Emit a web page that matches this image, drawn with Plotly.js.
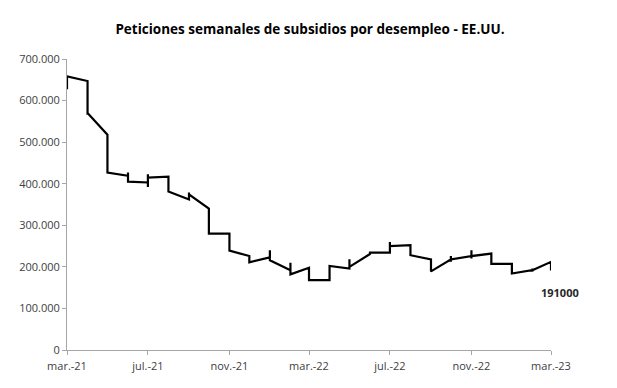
<!DOCTYPE html>
<html>
<head>
<meta charset="utf-8">
<script src="https://cdn.plot.ly/plotly-3.0.1.min.js"></script>
<style>
  html, body { margin: 0; padding: 0; background: #fff; }
  #chart { width: 617px; height: 388px; }
</style>
</head>
<body>
<div id="chart"></div>
<script>
// Week-ending dates of the weekly claims series
const weekEnding = [
  '2021-03-13','2021-03-20','2021-03-27',
  '2021-04-03','2021-04-10','2021-04-17','2021-04-24',
  '2021-05-01','2021-05-08','2021-05-15','2021-05-22','2021-05-29',
  '2021-06-05','2021-06-12','2021-06-19','2021-06-26',
  '2021-07-03','2021-07-10','2021-07-17','2021-07-24','2021-07-31',
  '2021-08-07','2021-08-14','2021-08-21','2021-08-28',
  '2021-09-04','2021-09-11','2021-09-18','2021-09-25',
  '2021-10-02','2021-10-09','2021-10-16','2021-10-23','2021-10-30',
  '2021-11-06','2021-11-13','2021-11-20','2021-11-27',
  '2021-12-04','2021-12-11','2021-12-18','2021-12-25',
  '2022-01-01','2022-01-08','2022-01-15','2022-01-22','2022-01-29',
  '2022-02-05','2022-02-12','2022-02-19','2022-02-26',
  '2022-03-05','2022-03-12','2022-03-19','2022-03-26',
  '2022-04-02','2022-04-09','2022-04-16','2022-04-23','2022-04-30',
  '2022-05-07','2022-05-14','2022-05-21','2022-05-28',
  '2022-06-04','2022-06-11','2022-06-18','2022-06-25',
  '2022-07-02','2022-07-09','2022-07-16','2022-07-23','2022-07-30',
  '2022-08-06','2022-08-13','2022-08-20','2022-08-27',
  '2022-09-03','2022-09-10','2022-09-17','2022-09-24',
  '2022-10-01','2022-10-08','2022-10-15','2022-10-22','2022-10-29',
  '2022-11-05','2022-11-12','2022-11-19','2022-11-26',
  '2022-12-03','2022-12-10','2022-12-17','2022-12-24','2022-12-31',
  '2023-01-07','2023-01-14','2023-01-21','2023-01-28',
  '2023-02-04','2023-02-11','2023-02-18','2023-02-25',
  '2023-03-04','2023-03-11','2023-03-18'
];

// Initial jobless claims (weekly)
const claims = [
  627000, 645000, 658000,
  647000, 590000, 566000, 570000,
  518000, 490000, 470000, 444000, 427000,
  419000, 427000, 412000, 405000,
  403000, 392000, 423000, 410000, 415000,
  417000, 398000, 385000, 381000,
  362000, 371000, 379000, 374000,
  340000, 312000, 296000, 288000, 280000,
  280000, 268000, 250000, 239000,
  226000, 218000, 214000, 211000,
  223000, 232000, 240000, 228000, 216000,
  192000, 210000, 196000, 182000,
  198000, 187000, 175000, 168000,
  168000, 180000, 185000, 195000, 202000,
  196000, 218000, 210000, 200000,
  231000, 229000, 232000, 234000,
  234000, 245000, 260000, 255000, 250000,
  252000, 245000, 236000, 228000,
  218000, 209000, 200000, 189000,
  218000, 226000, 220000, 212000, 218000,
  226000, 240000, 220000, 226000,
  232000, 225000, 222000, 216000, 207000,
  207000, 192000, 186000, 184000,
  192000, 196000, 188000, 192000,
  212000, 192000, 191000
];

// Axis ticks
const xTickVals = ['2021-03-01','2021-07-01','2021-11-01','2022-03-01','2022-07-01','2022-11-01','2023-03-01'];
const xTickText = ['mar.-21','jul.-21','nov.-21','mar.-22','jul.-22','nov.-22','mar.-23'];
const yTickVals = [0, 100000, 200000, 300000, 400000, 500000, 600000, 700000];

const titleText = 'Peticiones semanales de subsidios por desempleo - EE.UU.';

// Date axis with monthly base unit: every week plotted at its month start
const xMonth = weekEnding.map(d => d.slice(0, 7) + '-01');
const lastValue = claims[claims.length - 1];

const trace = {
  x: xMonth,
  y: claims,
  type: 'scatter',
  mode: 'lines',
  line: { color: '#000000', width: 2.2 },
  hoverinfo: 'skip'
};

const axisColor = '#a6a6a6';
const tickFont = { family: 'Open Sans, sans-serif', size: 11, color: '#404040' };

const layout = {
  width: 617,
  height: 388,
  margin: { l: 67, r: 66, t: 59, b: 38, pad: 0 },
  paper_bgcolor: '#ffffff',
  plot_bgcolor: '#ffffff',
  separators: ',.',
  showlegend: false,
  title: {
    text: '<b>' + titleText + '</b>',
    font: { family: 'Open Sans, sans-serif', size: 13.5, color: '#000000' },
    x: 0.502, xanchor: 'center', xref: 'paper',
    y: 32, yref: 'container', yanchor: 'middle'
  },
  xaxis: {
    type: 'date',
    range: ['2021-03-01', '2023-03-01'],
    tickvals: xTickVals,
    ticktext: xTickText,
    ticks: 'outside',
    ticklen: 4,
    tickcolor: axisColor,
    tickfont: tickFont,
    ticklabelstandoff: 2,
    showline: true,
    linecolor: axisColor,
    linewidth: 1,
    showgrid: false,
    zeroline: false,
    fixedrange: true
  },
  yaxis: {
    range: [0, 700000],
    tickvals: yTickVals,
    tickformat: ',d',
    ticks: 'outside',
    ticklen: 4,
    tickcolor: axisColor,
    tickfont: tickFont,
    showline: true,
    linecolor: axisColor,
    linewidth: 1,
    showgrid: false,
    zeroline: false,
    fixedrange: true
  },
  annotations: [{
    x: '2023-03-01',
    y: lastValue,
    xref: 'x',
    yref: 'y',
    text: '<b>' + String(lastValue) + '</b>',
    showarrow: false,
    xanchor: 'center',
    yanchor: 'middle',
    xshift: 9,
    yshift: -22,
    font: { family: 'Open Sans, sans-serif', size: 11, color: '#262626' }
  }]
};

Plotly.newPlot('chart', [trace], layout, { staticPlot: true, displayModeBar: false });
</script>
</body>
</html>
